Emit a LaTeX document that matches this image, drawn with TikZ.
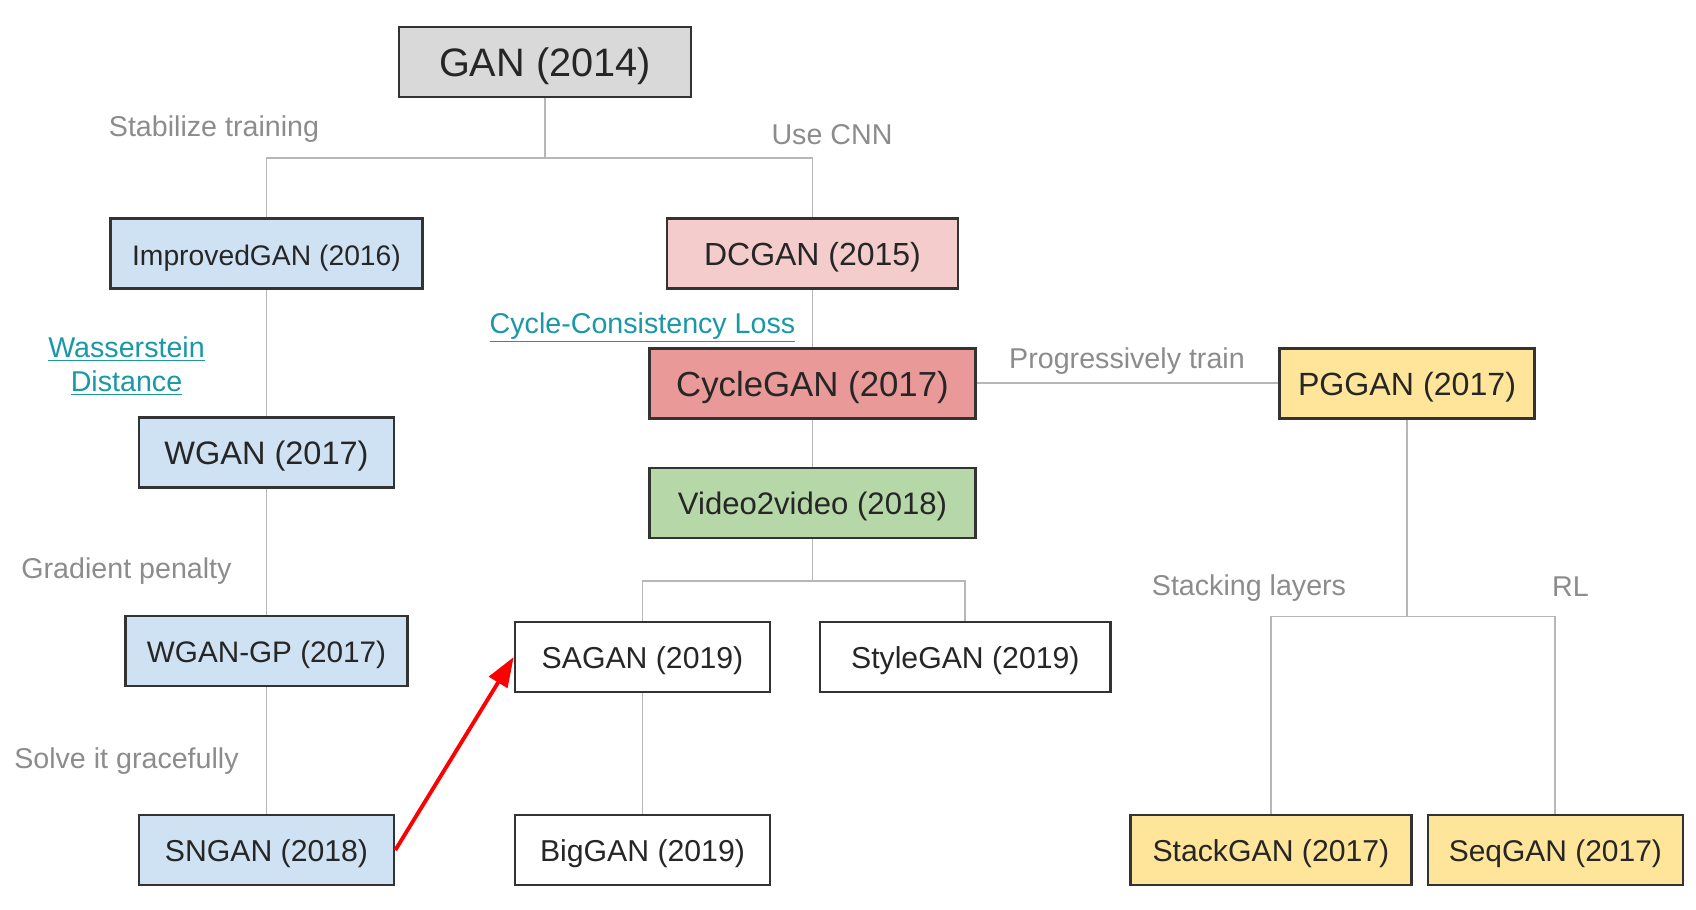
\documentclass[tikz,border=0pt]{standalone}
\usepackage{fontspec}
\setmainfont{Liberation Sans}
\usetikzlibrary{arrows.meta}

\definecolor{boxLine}{HTML}{333333}
\definecolor{boxText}{HTML}{262626}
\definecolor{lineGray}{HTML}{B7B7B7}
\definecolor{noteGray}{HTML}{8C8C8C}
\definecolor{linkTeal}{HTML}{1A98A6}
\definecolor{ganGray}{HTML}{D9D9D9}
\definecolor{stableBlue}{HTML}{CFE2F3}
\definecolor{cnnPink}{HTML}{F4CCCC}
\definecolor{cycleRed}{HTML}{EA9999}
\definecolor{progYellow}{HTML}{FFE599}
\definecolor{videoGreen}{HTML}{B6D7A8}

\begin{document}
\begin{tikzpicture}[x=0.02cm,y=-0.02cm,
  model/.style={draw=boxLine,line width=1.5pt,text=boxText,inner sep=0pt,minimum height=1.4cm,text height=13pt,text depth=0pt,font=\fontsize{17.2}{20}\selectfont},
  note/.style={text=noteGray,inner sep=0pt,font=\fontsize{16.3}{19.6}\selectfont},
  link/.style={text=linkTeal,inner sep=0pt,align=center,font=\fontsize{16.3}{19.4}\selectfont},
  tree/.style={draw=lineGray,line width=1.1pt},
  red arrow/.style={draw=red,line width=2.2pt,-{Triangle[length=17pt,width=12pt]}}]
	\useasboundingbox (0,0) rectangle (1696,909);
	% models
	\node (gan) [model,fill=ganGray,minimum width=5.84cm,text height=16.5pt,font=\fontsize{22.6}{26}\selectfont] at (545,62) {GAN (2014)};
	\node (improved) [model,fill=stableBlue,minimum width=6.25cm,font=\fontsize{16.1}{19}\selectfont] at (266.5,253.6) {ImprovedGAN (2016)};
	\node (dcgan) [model,fill=cnnPink,minimum width=5.82cm,text height=13.5pt,font=\fontsize{18.2}{21}\selectfont] at (812.5,253.6) {DCGAN (2015)};
	\node (cyclegan) [model,fill=cycleRed,minimum width=6.53cm,text height=14.5pt,font=\fontsize{19.8}{23}\selectfont] at (812.5,383.4) {CycleGAN (2017)};
	\node (pggan) [model,fill=progYellow,minimum width=5.1cm,text height=13.5pt,font=\fontsize{18.3}{21}\selectfont] at (1407,383.4) {PGGAN (2017)};
	\node (wgan) [model,fill=stableBlue,minimum width=5.1cm,text height=13.5pt,font=\fontsize{18.5}{21}\selectfont] at (266.5,452.6) {WGAN (2017)};
	\node (video) [model,fill=videoGreen,minimum width=6.53cm,font=\fontsize{17.7}{21}\selectfont] at (812.5,503) {Video2video (2018)};
	\node (wgangp) [model,fill=stableBlue,minimum width=5.65cm,font=\fontsize{16.9}{20}\selectfont] at (266.5,651) {WGAN-GP (2017)};
	\node (sagan) [model,fill=white,minimum width=5.1cm] at (642.5,657) {SAGAN (2019)};
	\node (stylegan) [model,fill=white,minimum width=5.82cm] at (965.3,657) {StyleGAN (2019)};
	\node (sngan) [model,fill=stableBlue,minimum width=5.1cm] at (266.5,850.1) {SNGAN (2018)};
	\node (biggan) [model,fill=white,minimum width=5.1cm] at (642.5,850.1) {BigGAN (2019)};
	\node (stackgan) [model,fill=progYellow,minimum width=5.62cm] at (1270.9,850.1) {StackGAN (2017)};
	\node (seqgan) [model,fill=progYellow,minimum width=5.1cm,font=\fontsize{17.05}{20}\selectfont] at (1555.4,850.1) {SeqGAN (2017)};
	% branch points
	\coordinate (ganfork) at (545,158);
	\coordinate (videofork) at (812.5,581);
	\coordinate (pgfork) at (1407,616.5);
	% tree lines
	\draw[tree] (gan.south) -- (ganfork);
	\draw[tree] (improved.north) |- (ganfork) -| (dcgan.north);
	\draw[tree] (improved.south) -- (wgan.north);
	\draw[tree] (wgan.south) -- (wgangp.north);
	\draw[tree] (wgangp.south) -- (sngan.north);
	\draw[tree] (dcgan.south) -- (cyclegan.north);
	\draw[tree] (cyclegan.south) -- (video.north);
	\draw[tree] (cyclegan.east) -- (pggan.west);
	\draw[tree] (video.south) -- (videofork);
	\draw[tree] (sagan.north) |- (videofork) -| (stylegan.north);
	\draw[tree] (sagan.south) -- (biggan.north);
	\draw[tree] (pggan.south) -- (pgfork);
	\draw[tree] (stackgan.north) |- (pgfork) -| (seqgan.north);
	\draw[red arrow] (sngan.east) -- (sagan.west);
	% labels
	\node (stabilize) [note] at (214,129.5) {Stabilize training};
	\node (usecnn) [note] at (832,135) {Use CNN};
	\node (wasserstein) [link] at (126.5,366) {\underline{Wasserstein}\\\underline{Distance}};
	\node (cycleloss) [link] at (642.5,327.5) {\underline{Cycle-Consistency Loss}};
	\node (progressive) [note] at (1127,361.5) {Progressively train};
	\node (gradient) [note] at (126.5,571.5) {Gradient penalty};
	\node (graceful) [note] at (126.5,761.5) {Solve it gracefully};
	\node (stacking) [note] at (1249,588.5) {Stacking layers};
	\node (rl) [note] at (1570.5,586.5) {RL};
\end{tikzpicture}
\end{document}
